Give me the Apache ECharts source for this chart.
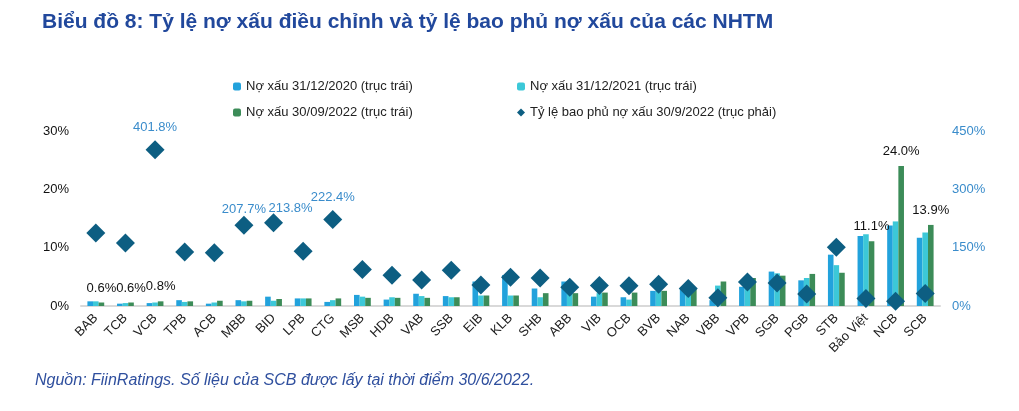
<!DOCTYPE html>
<html>
<head>
<meta charset="utf-8">
<script src="https://cdn.jsdelivr.net/npm/echarts@6/dist/echarts.min.js"></script>
<style>
  html, body { margin: 0; padding: 0; background: #ffffff; }
  #chart { width: 1019px; height: 411px; }
</style>
</head>
<body>
<div id="chart"></div>
<script>
const categories = ['BAB','TCB','VCB','TPB','ACB','MBB','BID','LPB','CTG','MSB','HDB','VAB','SSB','EIB','KLB','SHB','ABB','VIB','OCB','BVB','NAB','VBB','VPB','SGB','PGB','STB','Bảo Việt','NCB','SCB'];
const npl2020 = [0.8,0.4,0.5,1.0,0.4,1.0,1.6,1.3,0.7,1.9,1.1,2.1,1.7,4.2,5.3,3.0,4.2,1.6,1.5,2.6,3.0,1.0,3.3,5.9,4.4,8.8,12.0,13.8,11.7];
const npl2021 = [0.8,0.5,0.6,0.7,0.6,0.8,0.9,1.3,1.0,1.6,1.5,1.7,1.5,1.8,1.8,1.5,2.5,2.2,1.1,2.6,3.2,3.5,4.2,5.6,4.8,7.0,12.3,14.5,12.6];
const npl2022 = [0.6,0.6,0.8,0.8,0.9,0.9,1.2,1.3,1.3,1.4,1.4,1.4,1.5,1.8,1.8,2.2,2.2,2.3,2.3,2.6,3.0,4.2,4.8,5.2,5.5,5.7,11.1,24.0,13.9];
const coverage = [188,162,401.8,139,137,207.7,213.8,141,222.4,94,79,67,92,54,74,72,48,53,52,56,45,21,62,59,31,151,19,12,32];
const leftTicks = [0,10,20,30];
const rightTicks = [0,150,300,450];
const nplLabelled = ['BAB','TCB','VCB','Bảo Việt','NCB','SCB'];
const coverageLabelled = ['VCB','MBB','BID','CTG'];

const seriesNames = ['Nợ xấu 31/12/2020 (trục trái)','Nợ xấu 31/12/2021 (trục trái)','Nợ xấu 30/09/2022 (trục trái)','Tỷ lệ bao phủ nợ xấu 30/9/2022 (trục phải)'];
const colors = ['#22A2DC','#3CC8D8','#3C8C58','#0D5E82'];

const covLabelOffsets = { 'VCB': [0, 2], 'MBB': [0, 8], 'BID': [17, 10], 'CTG': [0, 2] };

const chart = echarts.init(document.getElementById('chart'));
const font = 'Liberation Sans, Arial, sans-serif';

const greenData = npl2022.map((v, i) => {
  if (nplLabelled.indexOf(categories[i]) >= 0) {
    return { value: v, label: { show: true, position: 'top', distance: 8, formatter: (p) => p.value.toFixed(1) + '%', color: '#111', fontSize: 13, fontFamily: font } };
  }
  return v;
});
const covData = coverage.map((v, i) => {
  const c = categories[i];
  if (coverageLabelled.indexOf(c) >= 0) {
    return { value: v, label: { show: true, position: 'top', distance: 8, offset: covLabelOffsets[c], formatter: (p) => p.value.toFixed(1) + '%', color: '#3A8CCB', fontSize: 13, fontFamily: font } };
  }
  return v;
});

const option = {
  backgroundColor: '#ffffff',
  animation: false,
  textStyle: { fontFamily: font },
  title: [
    { text: 'Biểu đồ 8: Tỷ lệ nợ xấu điều chỉnh và tỷ lệ bao phủ nợ xấu của các NHTM', left: 37, top: 7,
      textStyle: { fontSize: 21, fontWeight: 'bold', color: '#21489C', fontFamily: font } },
    { text: 'Nguồn: FiinRatings. Số liệu của SCB được lấy tại thời điểm 30/6/2022.', left: 30, top: 368,
      textStyle: { fontSize: 16, fontStyle: 'italic', fontWeight: 'normal', color: '#2F4F9E', fontFamily: font } }
  ],
  legend: [
    { data: [seriesNames[0], seriesNames[2]], orient: 'vertical', left: 228, top: 75, itemWidth: 8, itemHeight: 8, itemGap: 13,
      textStyle: { fontSize: 13, color: '#222', fontFamily: font } },
    { data: [seriesNames[1], seriesNames[3]], orient: 'vertical', left: 512, top: 75, itemWidth: 8, itemHeight: 8, itemGap: 13,
      textStyle: { fontSize: 13, color: '#222', fontFamily: font } }
  ],
  grid: { left: 81, right: 79, top: 131, bottom: 105 },
  xAxis: {
    type: 'category', data: categories,
    axisLine: { lineStyle: { color: '#D9D9D9', width: 2 } },
    axisTick: { show: false },
    axisLabel: { rotate: 45, interval: 0, fontSize: 13, color: '#222', margin: 10, fontFamily: font }
  },
  yAxis: [
    { type: 'value', min: leftTicks[0], max: leftTicks[leftTicks.length - 1], interval: 10, splitLine: { show: false },
      axisLine: { show: false }, axisTick: { show: false },
      axisLabel: { formatter: '{value}%', fontSize: 13, color: '#111', margin: 12, fontFamily: font } },
    { type: 'value', min: rightTicks[0], max: rightTicks[rightTicks.length - 1], interval: 150, splitLine: { show: false },
      axisLine: { show: false }, axisTick: { show: false },
      axisLabel: { formatter: '{value}%', fontSize: 13, color: '#3A8CCB', margin: 12, fontFamily: font } }
  ],
  series: [
    { name: seriesNames[0], type: 'bar', data: npl2020, itemStyle: { color: colors[0] }, barWidth: 5.6, barGap: '0%' },
    { name: seriesNames[1], type: 'bar', data: npl2021, itemStyle: { color: colors[1] }, barWidth: 5.6, barGap: '0%' },
    { name: seriesNames[2], type: 'bar', data: greenData, itemStyle: { color: colors[2] }, barWidth: 5.6, barGap: '0%' },
    { name: seriesNames[3], type: 'scatter', yAxisIndex: 1, data: covData, symbol: 'diamond', symbolSize: 19, z: 5,
      itemStyle: { color: colors[3], opacity: 1 } }
  ]
};
chart.setOption(option);
</script>
</body>
</html>
